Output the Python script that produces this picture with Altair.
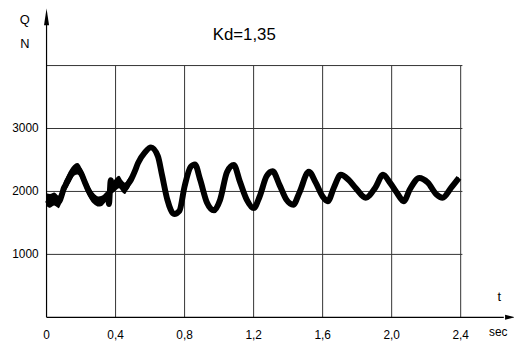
import altair as alt
import pandas as pd

# ---- data ----
t_sec = [0.00, 0.02, 0.045, 0.07, 0.09, 0.10, 0.11, 0.12, 0.14, 0.16,
         0.18, 0.20, 0.22, 0.24, 0.26, 0.28, 0.30, 0.32, 0.34, 0.355, 0.362, 0.367,
         0.372, 0.38, 0.40, 0.42, 0.44, 0.455, 0.47, 0.49, 0.51, 0.53, 0.57, 0.605,
         0.645, 0.67, 0.70, 0.74, 0.77, 0.80, 0.835, 0.86, 0.89, 0.93, 0.97, 1.006,
         1.046, 1.085, 1.12, 1.16, 1.20, 1.235, 1.275, 1.31, 1.35, 1.39, 1.43, 1.465,
         1.52, 1.56, 1.60, 1.63, 1.665, 1.705, 1.75, 1.79, 1.85, 1.905, 1.95, 1.99,
         2.03, 2.07, 2.105, 2.16, 2.21, 2.26, 2.295, 2.345, 2.39]
q_mid = [1870, 1850, 1880, 1835, 1960, 2050, 2100, 2160, 2260, 2340,
         2360, 2290, 2160, 2030, 1930, 1870, 1840, 1850, 1900, 1950, 1800, 2000,
         2180, 2060, 2110, 2150, 2080, 2050, 2110, 2190, 2310, 2450, 2620, 2700,
         2560, 2250, 1870, 1640, 1690, 2080, 2390, 2430, 2190, 1820, 1700, 1870,
         2310, 2420, 2160, 1870, 1735, 1920, 2240, 2320, 2105, 1870, 1790, 1980,
         2315, 2140, 1920, 1845, 2060, 2265, 2185, 2060, 1900, 2060, 2265, 2140,
         1980, 1845, 2030, 2215, 2140, 1950, 1900, 2060, 2215]
q_spread = [200, 220, 210, 200, 200, 200, 200, 210, 210, 180,
            180, 190, 200, 200, 190, 170, 160, 160, 150, 130, 20, 20,
            20, 180, 200, 200, 190, 180, 170, 150, 120, 90, 70, 50,
            50, 40, 40, 60, 60, 40, 40, 50, 40, 40, 50, 40,
            40, 50, 40, 40, 50, 40, 40, 50, 40, 40, 50, 40,
            50, 40, 40, 60, 40, 50, 40, 40, 40, 40, 50, 40,
            40, 40, 40, 50, 40, 40, 40, 40, 40]

x_ticks = [0.0, 0.4, 0.8, 1.2, 1.6, 2.0, 2.4]
x_tick_labels = ["0", "0,4", "0,8", "1,2", "1,6", "2,0", "2,4"]
y_grid = [1000, 2000, 3000, 4000]
y_ticks = [1000, 2000, 3000]
y_tick_labels = ["1000", "2000", "3000"]
title_text = "Kd=1,35"

df = pd.DataFrame({"t": t_sec, "q": q_mid, "s": q_spread})
df["lo"] = df["q"] - df["s"] / 2
df["hi"] = df["q"] + df["s"] / 2

W, H = 473, 311
xs = alt.Scale(domain=[0, 2.709], nice=False, zero=False)
ys = alt.Scale(domain=[0, 4883], nice=False, zero=False)
FONT = "Liberation Sans"
GRID = "#333333"

hgrid = alt.Chart(pd.DataFrame({"y": y_grid, "x0": 0.0, "x1": 2.41})).mark_rule(
    color=GRID, strokeWidth=1).encode(
    x=alt.X("x0:Q", scale=xs, axis=None), x2="x1:Q",
    y=alt.Y("y:Q", scale=ys, axis=None))

vgrid = alt.Chart(pd.DataFrame({"x": x_ticks[1:], "y0": 0, "y1": 4000})).mark_rule(
    color=GRID, strokeWidth=1).encode(
    x=alt.X("x:Q", scale=xs, axis=None),
    y=alt.Y("y0:Q", scale=ys, axis=None), y2="y1:Q")

yaxis = alt.Chart(pd.DataFrame({"x": [0.0], "y0": [0], "y1": [4700]})).mark_rule(
    color="black", strokeWidth=1.2).encode(
    x=alt.X("x:Q", scale=xs, axis=None),
    y=alt.Y("y0:Q", scale=ys, axis=None), y2="y1:Q")

xaxis = alt.Chart(pd.DataFrame({"x0": [0.0], "x1": [2.65], "y": [0]})).mark_rule(
    color="black", strokeWidth=1.2).encode(
    x=alt.X("x0:Q", scale=xs, axis=None), x2="x1:Q",
    y=alt.Y("y:Q", scale=ys, axis=None))

yarrow = alt.Chart(pd.DataFrame({"x": [0.0], "y": [4773]})).mark_point(
    shape="M0,-1L0.3,1L-0.3,1Z", size=289, filled=True, color="black", opacity=1).encode(
    x=alt.X("x:Q", scale=xs, axis=None), y=alt.Y("y:Q", scale=ys, axis=None))

xarrow = alt.Chart(pd.DataFrame({"x": [2.686], "y": [0]})).mark_point(
    shape="M1,0L-1,-0.5L-1,0.5Z", size=100, filled=True, color="black", opacity=1).encode(
    x=alt.X("x:Q", scale=xs, axis=None), y=alt.Y("y:Q", scale=ys, axis=None))

band = alt.Chart(df).mark_area(color="black", opacity=1, interpolate="monotone").encode(
    x=alt.X("t:Q", scale=xs, axis=None),
    y=alt.Y("lo:Q", scale=ys, axis=None), y2="hi:Q")

line = alt.Chart(df).mark_line(color="black", strokeWidth=6, strokeJoin="round",
                               interpolate="monotone").encode(
    x=alt.X("t:Q", scale=xs, axis=None),
    y=alt.Y("q:Q", scale=ys, axis=None))

xlab = alt.Chart(pd.DataFrame({"x": x_ticks, "lab": x_tick_labels})).mark_text(
    font=FONT, fontSize=12, color="black", baseline="middle", align="center").encode(
    x=alt.X("x:Q", scale=xs, axis=None), y=alt.value(328.5), text="lab:N")

ylab = alt.Chart(pd.DataFrame({"y": y_ticks, "lab": y_tick_labels})).mark_text(
    font=FONT, fontSize=12, color="black", baseline="middle", align="right").encode(
    x=alt.value(-8), y=alt.Y("y:Q", scale=ys, axis=None), text="lab:N")

notes = alt.Chart(pd.DataFrame({
    "lab": [title_text, "Q", "N", "t", "sec"],
    "px": [200, -22, -22, 458, 457],
    "py": [25.5, 10.5, 34, 290, 326],
    "fs": [17, 13, 13, 13, 12]})).mark_text(
    font=FONT, color="black", baseline="middle", align="center").encode(
    x=alt.X("px:Q", scale=None), y=alt.Y("py:Q", scale=None), text="lab:N",
    size=alt.Size("fs:Q", scale=None, legend=None))

chart = alt.layer(hgrid, vgrid, band, line, yaxis, xaxis, yarrow, xarrow,
                  xlab, ylab, notes).properties(
    width=W, height=H,
    autosize=alt.AutoSizeParams(type="none"),
    padding={"left": 39, "top": 0, "right": 0, "bottom": 27}
).configure_view(stroke=None)

chart.save("out.html", embed_options={"renderer": "svg", "actions": False})
